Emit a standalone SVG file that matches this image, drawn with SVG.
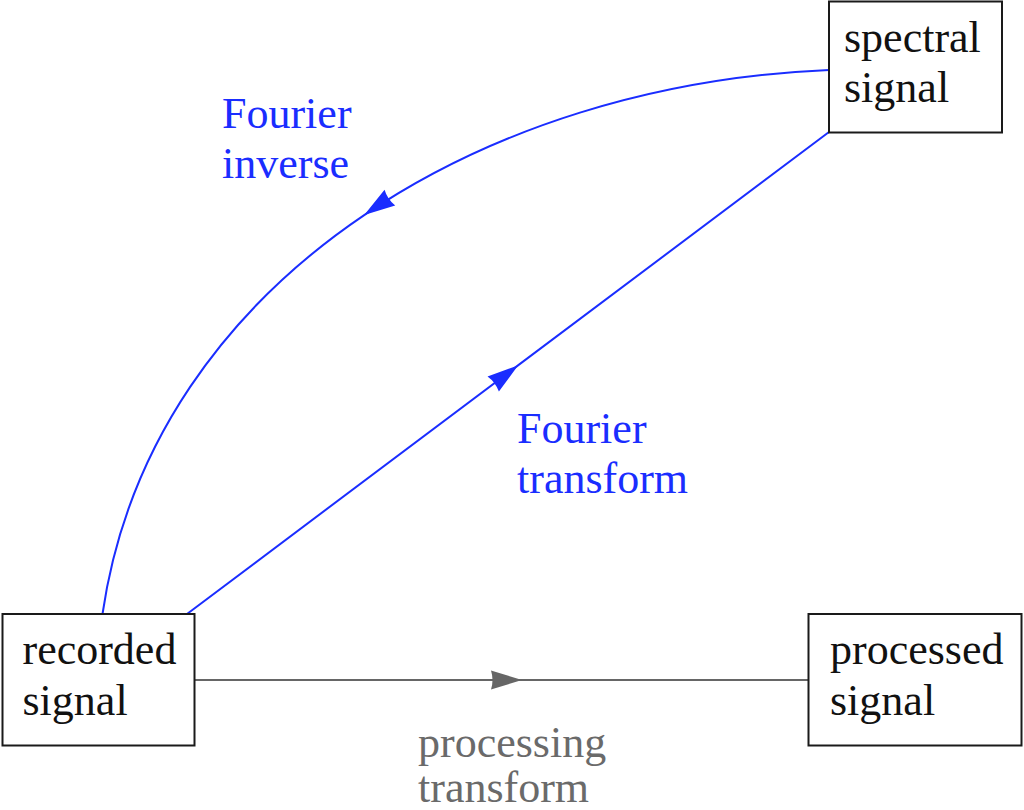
<svg xmlns="http://www.w3.org/2000/svg" width="1024" height="810" viewBox="0 0 1024 810">
<style>
.box{fill:#fff;stroke:#1a1a1a;stroke-width:2}
.t{font-family:'DejaVu Serif','Liberation Serif',serif;font-size:44px;fill:#111}
.blue{fill:#1a2dff}
.gray{fill:#6a6a6a}
.lb{fill:none;stroke:#1a2dff;stroke-width:2}
.lg{fill:none;stroke:#666;stroke-width:2}
</style>
<defs>
<marker id="ab" markerUnits="userSpaceOnUse" markerWidth="34" markerHeight="22" refX="31" refY="9.5" orient="auto" overflow="visible">
<path d="M0,0 L31,9.5 L0,19 Q3,9.5 0,0 Z" fill="#1a2dff"/>
</marker>
<marker id="ag" markerUnits="userSpaceOnUse" markerWidth="34" markerHeight="22" refX="31" refY="9.5" orient="auto" overflow="visible">
<path d="M0,0 L31,9.5 L0,19 Q3,9.5 0,0 Z" fill="#666"/>
</marker>
</defs>
<rect width="1024" height="810" fill="#fff"/>
<g id="connectors">
<path class="lg" d="M195,680 L522,680 L808,680" marker-mid="url(#ag)"/>
<path class="lb" d="M187,614 L518,365.4 L829,132" marker-mid="url(#ab)"/>
<path class="lb" d="M829,70 C656.2,77.2 492.6,128.2 364.2,215.1 C225.0,309.2 126.96,445.5 102.5,614" marker-mid="url(#ab)"/>
</g>
<g id="recorded">
<rect class="box" x="2.5" y="614" width="192" height="131.5"/>
<text class="t" x="22.5" y="664" style="font-family:'Liberation Serif',serif">recorded</text>
<text class="t" x="22.5" y="715" style="font-family:'Liberation Serif',serif">signal</text>
</g>
<g id="spectral">
<rect class="box" x="829" y="1.5" width="173" height="131"/>
<text class="t" x="844" y="52" style="font-family:'Liberation Serif',serif">spectral</text>
<text class="t" x="844" y="102" style="font-family:'Liberation Serif',serif">signal</text>
</g>
<g id="processed">
<rect class="box" x="808.5" y="614" width="213" height="131.5"/>
<text class="t" x="830" y="664" style="font-family:'Liberation Serif',serif">processed</text>
<text class="t" x="830" y="715" style="font-family:'Liberation Serif',serif">signal</text>
</g>
<g id="label-inverse">
<text class="t blue" x="222" y="128" style="font-family:'Liberation Serif',serif">Fourier</text>
<text class="t blue" x="222" y="178" style="font-family:'Liberation Serif',serif">inverse</text>
</g>
<g id="label-transform">
<text class="t blue" x="517" y="443" style="font-family:'Liberation Serif',serif">Fourier</text>
<text class="t blue" x="517" y="493" style="font-family:'Liberation Serif',serif">transform</text>
</g>
<g id="label-processing">
<text class="t gray" x="418" y="757" style="font-family:'Liberation Serif',serif">processing</text>
<text class="t gray" x="418" y="802" style="font-family:'Liberation Serif',serif">transform</text>
</g>
</svg>
